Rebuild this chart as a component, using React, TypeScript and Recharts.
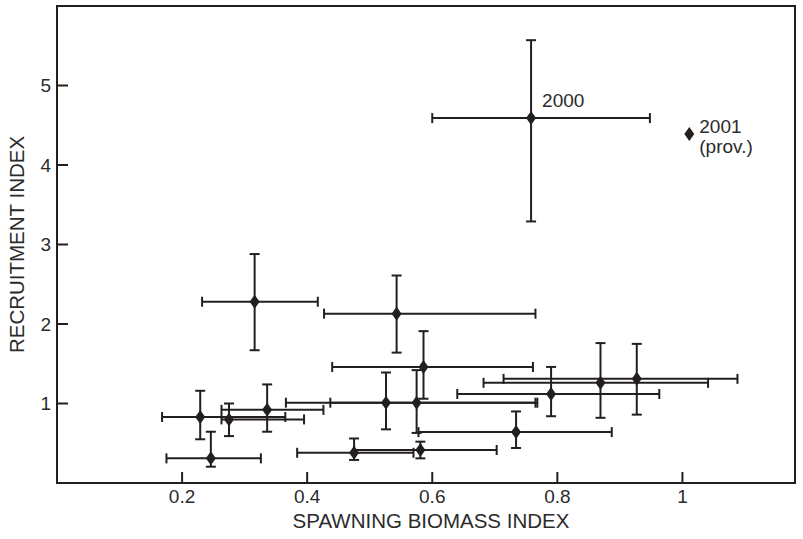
import { ErrorBar, Label, ReferenceArea, Scatter, ScatterChart, XAxis, YAxis } from 'recharts';

// spawning biomass index (x) with its low / high bounds
const biomass = [0.758, 0.316, 0.543, 0.586, 0.79, 0.869, 0.927, 0.734, 0.581, 0.575, 0.526, 0.336, 0.229, 0.275, 0.246, 0.475];
const biomassLow = [0.6, 0.232, 0.427, 0.44, 0.64, 0.682, 0.714, 0.578, 0.475, 0.437, 0.366, 0.263, 0.168, 0.263, 0.175, 0.384];
const biomassHigh = [0.948, 0.417, 0.765, 0.761, 0.963, 1.041, 1.088, 0.887, 0.703, 0.768, 0.765, 0.426, 0.365, 0.395, 0.326, 0.57];

// recruitment index (y) with its low / high bounds
const recruitment = [4.59, 2.28, 2.13, 1.46, 1.12, 1.26, 1.31, 0.64, 0.415, 1.01, 1.01, 0.92, 0.83, 0.8, 0.31, 0.38];
const recruitmentLow = [3.29, 1.67, 1.64, 1.06, 0.84, 0.82, 0.86, 0.44, 0.31, 0.63, 0.675, 0.645, 0.55, 0.59, 0.205, 0.29];
const recruitmentHigh = [5.57, 2.88, 2.61, 1.91, 1.46, 1.76, 1.75, 0.9, 0.52, 1.42, 1.39, 1.24, 1.16, 1.0, 0.645, 0.56];

const pointLabels = ['2000', '', '', '', '', '', '', '', '', '', '', '', '', '', '', ''];

// provisional estimate, no error bars
const provBiomass = [1.011];
const provRecruitment = [4.39];
const provLabels = [['2001', '(prov.)']];

const xTicks = [0.2, 0.4, 0.6, 0.8, 1];
const yTicks = [1, 2, 3, 4, 5];
const xDomain = [0, 1.18];
const yDomain = [0, 6];

const INK = '#231f20';
const TEXT = '#2b2b2b';
const FONT = '"Liberation Sans", Arial, Helvetica, sans-serif';
const TICK_LEN = 11;
const X_GAP = 5;
const Y_GAP = 6;

const estimates = biomass.map((x, i) => ({
  x,
  y: recruitment[i],
  xErr: [x - biomassLow[i], biomassHigh[i] - x],
  yErr: [recruitment[i] - recruitmentLow[i], recruitmentHigh[i] - recruitment[i]],
  label: pointLabels[i],
}));

const provisional = provBiomass.map((x, i) => ({
  x,
  y: provRecruitment[i],
  label: provLabels[i],
}));

const diamond = (cx: number, cy: number) =>
  `${cx},${cy - 7} ${cx + 5},${cy} ${cx},${cy + 7} ${cx - 5},${cy}`;

// ticks point inward, so draw the tick line together with the label
const XTick = (props: any) => {
  const { x, y, payload } = props;
  const axisY = y - X_GAP;
  return (
    <g>
      <line x1={x} x2={x} y1={axisY} y2={axisY - TICK_LEN} stroke={INK} strokeWidth={2} />
      <text x={x} y={y} dy="0.8em" textAnchor="middle" fill={TEXT} fontSize={19} fontFamily={FONT}>
        {payload.value}
      </text>
    </g>
  );
};

const YTick = (props: any) => {
  const { x, y, payload } = props;
  const axisX = x + Y_GAP;
  return (
    <g>
      <line x1={axisX} x2={axisX + TICK_LEN} y1={y} y2={y} stroke={INK} strokeWidth={2} />
      <text x={x} y={y} dy="0.35em" textAnchor="end" fill={TEXT} fontSize={19} fontFamily={FONT}>
        {payload.value}
      </text>
    </g>
  );
};

const EstimateShape = (props: any) => {
  const { cx, cy, payload } = props;
  if (cx == null || cy == null) return null;
  return (
    <g>
      <polygon points={diamond(cx, cy)} fill={INK} />
      {payload.label ? (
        <text x={cx + 11} y={cy - 11} fill={TEXT} fontSize={19} fontFamily={FONT}>
          {payload.label}
        </text>
      ) : null}
    </g>
  );
};

const ProvShape = (props: any) => {
  const { cx, cy, payload } = props;
  if (cx == null || cy == null) return null;
  const lines: string[] = payload.label || [];
  return (
    <g>
      <polygon points={diamond(cx, cy)} fill={INK} />
      <text x={cx + 10} y={cy - 1} fill={TEXT} fontSize={19} fontFamily={FONT}>
        {lines.map((line, i) => (
          <tspan key={i} x={cx + 10} dy={i === 0 ? 0 : 20}>
            {line}
          </tspan>
        ))}
      </text>
    </g>
  );
};

export default function App() {
  return (
    <div style={{ position: 'absolute', left: 0, top: 0, background: '#fff' }}>
      <ScatterChart width={803} height={539} margin={{ top: 6, right: 8, bottom: 0, left: 0 }}>
        <XAxis
          type="number"
          dataKey="x"
          domain={xDomain}
          ticks={xTicks}
          allowDataOverflow
          height={56}
          tickSize={0}
          tickMargin={X_GAP}
          axisLine={{ stroke: INK, strokeWidth: 2 }}
          tickLine={false}
          tick={<XTick />}
        >
          <Label
            value="SPAWNING BIOMASS INDEX"
            position="insideBottom"
            offset={11}
            dx={5}
            style={{ fill: TEXT, fontSize: 20.5, fontFamily: FONT }}
          />
        </XAxis>
        <YAxis
          type="number"
          dataKey="y"
          domain={yDomain}
          ticks={yTicks}
          allowDataOverflow
          width={57}
          tickSize={0}
          tickMargin={Y_GAP}
          axisLine={{ stroke: INK, strokeWidth: 2 }}
          tickLine={false}
          tick={<YTick />}
        >
          <Label
            value="RECRUITMENT INDEX"
            angle={-90}
            position="insideLeft"
            offset={17}
            style={{ fill: TEXT, fontSize: 20.5, fontFamily: FONT, textAnchor: 'middle' }}
          />
        </YAxis>
        <ReferenceArea x1={xDomain[0]} x2={xDomain[1]} y1={yDomain[0]} y2={yDomain[1]} fill="none" stroke={INK} strokeWidth={2} />
        <Scatter data={estimates} shape={EstimateShape} isAnimationActive={false}>
          <ErrorBar dataKey="xErr" direction="x" width={5} stroke={INK} strokeWidth={2} />
          <ErrorBar dataKey="yErr" direction="y" width={5} stroke={INK} strokeWidth={2} />
        </Scatter>
        <Scatter data={provisional} shape={ProvShape} isAnimationActive={false} />
      </ScatterChart>
    </div>
  );
}
